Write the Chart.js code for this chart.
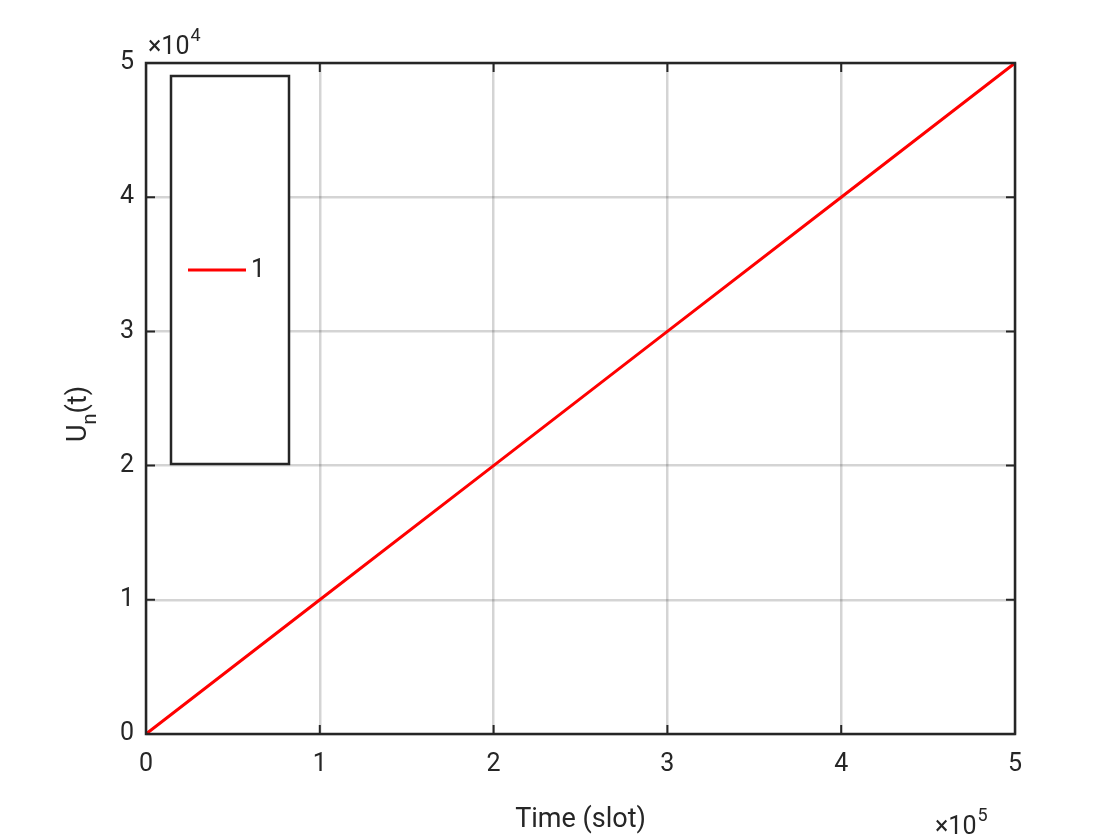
<!DOCTYPE html>
<html>
<head>
<meta charset="utf-8">
<script src="https://cdn.jsdelivr.net/npm/chart.js@4"></script>
<style>
  html, body { margin: 0; padding: 0; background: #fff; }
  #wrap { width: 1120px; height: 840px; }
</style>
</head>
<body>
<div id="wrap"><canvas id="c" width="1120" height="840"></canvas></div>
<script>
// --- Data (x in units of 1e5 slots, y in units of 1e4) ---
const timeSlots = [0, 1, 2, 3, 4, 5];
const utility = [0, 1, 2, 3, 4, 5];
const xTicks = [0, 1, 2, 3, 4, 5];
const yTicks = [0, 1, 2, 3, 4, 5];
const seriesName = '1';

const FONT = 'Roboto, "Liberation Sans", sans-serif';
const AXIS = '#262626';

function drawExp(ctx, x, y, exp) {
    ctx.font = '25px ' + FONT;
    ctx.fillText('\u00d710', x, y);
    const w = ctx.measureText('\u00d710').width;
    ctx.font = '18px ' + FONT;
    ctx.fillText(exp, x + w + 1, y - 13);
}

// frame, inward ticks, exponents, y title and legend box
const matlabDecor = {
    id: 'matlabDecor',
    afterDraw(chart) {
        const ctx = chart.ctx;
        const a = chart.chartArea;
        const xs = chart.scales.x, ys = chart.scales.y;
        ctx.save();
        ctx.strokeStyle = AXIS;
        ctx.lineWidth = 2.5;
        ctx.strokeRect(a.left, a.top, a.right - a.left, a.bottom - a.top);

        ctx.lineWidth = 2;
        ctx.beginPath();
        xTicks.forEach(v => {
            const px = xs.getPixelForValue(v);
            ctx.moveTo(px, a.bottom); ctx.lineTo(px, a.bottom - 9);
            ctx.moveTo(px, a.top); ctx.lineTo(px, a.top + 9);
        });
        yTicks.forEach(v => {
            const py = ys.getPixelForValue(v);
            ctx.moveTo(a.left, py); ctx.lineTo(a.left + 9, py);
            ctx.moveTo(a.right, py); ctx.lineTo(a.right - 9, py);
        });
        ctx.stroke();

        // exponent labels
        ctx.fillStyle = AXIS;
        ctx.textBaseline = 'alphabetic';
        ctx.textAlign = 'left';
        drawExp(ctx, 148, 54, '4');
        drawExp(ctx, 935, 834, '5');

        // y title U_n(t)
        ctx.translate(86, 400);
        ctx.rotate(-Math.PI / 2);
        ctx.font = '27px ' + FONT;
        ctx.fillText('U', -42, 0);
        const uw = ctx.measureText('U').width;
        ctx.font = '20px ' + FONT;
        ctx.fillText('n', -42 + uw, 10);
        const nw = ctx.measureText('n').width;
        ctx.font = '27px ' + FONT;
        ctx.fillText('(t)', -42 + uw + nw, 0);
        ctx.setTransform(1, 0, 0, 1, 0, 0);

        // legend box
        ctx.fillStyle = '#fff';
        ctx.fillRect(171, 76, 118, 388);
        ctx.strokeStyle = AXIS;
        ctx.lineWidth = 2.5;
        ctx.strokeRect(171, 76, 118, 388);
        ctx.strokeStyle = '#ff0000';
        ctx.lineWidth = 3;
        ctx.beginPath();
        ctx.moveTo(188, 270); ctx.lineTo(246, 270);
        ctx.stroke();
        ctx.fillStyle = AXIS;
        ctx.font = '25px ' + FONT;
        ctx.textBaseline = 'middle';
        ctx.fillText(seriesName, 251, 271);
        ctx.restore();
    }
};

new Chart(document.getElementById('c'), {
    type: 'line',
    data: {
        datasets: [{
            label: seriesName,
            data: timeSlots.map((t, i) => ({ x: t, y: utility[i] })),
            borderColor: '#ff0000',
            borderWidth: 3,
            pointRadius: 0,
            tension: 0,
            fill: false
        }]
    },
    options: {
        responsive: false,
        animation: false,
        layout: { padding: { left: 0, right: 105, top: 63, bottom: 0 } },
        plugins: { legend: { display: false }, tooltip: { enabled: false } },
        scales: {
            x: {
                type: 'linear', min: 0, max: 5,
                afterBuildTicks: s => { s.ticks = xTicks.map(v => ({ value: v })); },
                afterFit: s => { s.height = 106; },
                grid: { color: 'rgba(0,0,0,0.17)', lineWidth: 2.5, drawTicks: false },
                border: { display: false },
                ticks: { color: AXIS, font: { family: FONT, size: 25 }, padding: 16 },
                title: { display: true, text: 'Time (slot)', color: AXIS,
                         font: { family: FONT, size: 27 }, padding: { top: 2 } }
            },
            y: {
                type: 'linear', min: 0, max: 5,
                afterBuildTicks: s => { s.ticks = yTicks.map(v => ({ value: v })); },
                afterFit: s => { s.width = 146; },
                grid: { color: 'rgba(0,0,0,0.17)', lineWidth: 2.5, drawTicks: false },
                border: { display: false },
                ticks: { color: AXIS, font: { family: FONT, size: 25 }, padding: 12 }
            }
        }
    },
    plugins: [matlabDecor]
});
</script>
</body>
</html>
